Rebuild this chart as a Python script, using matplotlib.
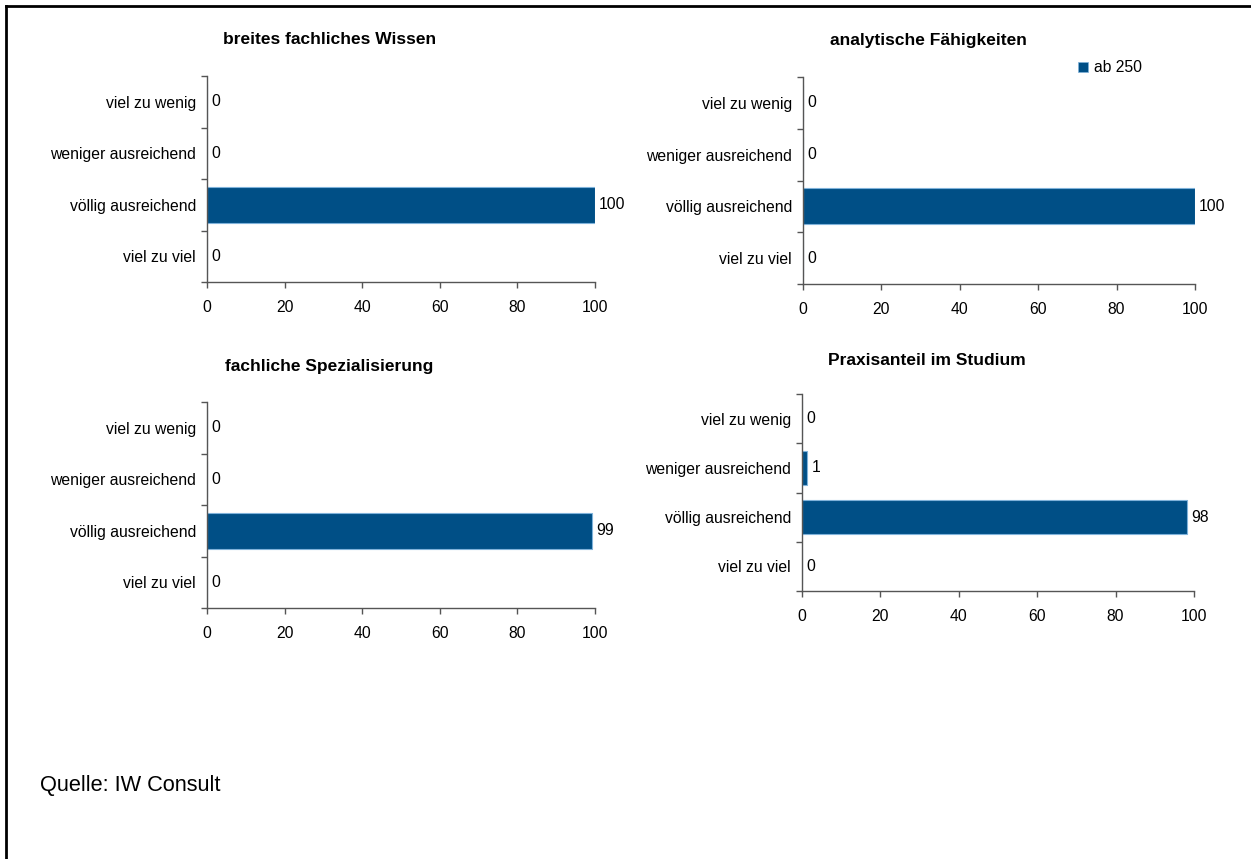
import matplotlib
matplotlib.use("Agg")
import matplotlib.pyplot as plt
from matplotlib.patches import Patch
from matplotlib.lines import Line2D

plt.rcParams['font.family'] = ['Liberation Sans', 'DejaVu Sans']

categories = ["viel zu wenig", "weniger ausreichend", "völlig ausreichend", "viel zu viel"]
titles = ["breites fachliches Wissen", "analytische Fähigkeiten",
          "fachliche Spezialisierung", "Praxisanteil im Studium"]
values_wissen = [0, 0, 100, 0]
values_analytik = [0, 0, 100, 0]
values_spezial = [0, 0, 99.3, 0]
values_praxis = [0, 1.4, 98.2, 0]
series_name = "ab 250"
xticks = [0, 20, 40, 60, 80, 100]
source = "Quelle: IW Consult"

W, H = 1251, 859
BAR = "#004F86"
EDGE = "#7FB2DA"
AX = "#555555"
FS = 11.3
TFS = 12.5

fig = plt.figure(figsize=(W / 100, H / 100), dpi=100)

# panel boxes in pixels: x0, x1, ytop, ybot ; title center x, title y
panels = [
    (values_wissen, titles[0], (207, 595, 76, 282), (330, 39)),
    (values_analytik, titles[1], (803, 1195, 77, 284), (928, 40)),
    (values_spezial, titles[2], (207, 595, 402, 608), (329, 366)),
    (values_praxis, titles[3], (802, 1194, 394, 591), (927, 360)),
]

axes = []
for vals, title, (x0, x1, yt, yb), (tx, ty) in panels:
    ax = fig.add_axes([x0 / W, 1 - yb / H, (x1 - x0) / W, (yb - yt) / H])
    ypos = list(range(len(categories)))
    ax.barh(ypos, vals, height=0.7, color=BAR, edgecolor=EDGE, linewidth=0.8)
    ax.set_xlim(0, 100)
    ax.set_ylim(len(categories) - 0.5, -0.5)
    ax.set_xticks(xticks)
    ax.set_xticklabels([str(t) for t in xticks], fontsize=FS)
    ax.set_yticks([i - 0.5 for i in range(len(categories) + 1)])
    ax.set_yticklabels([])
    ax.set_yticks(ypos, minor=True)
    ax.set_yticklabels(categories, minor=True, fontsize=FS)
    ax.tick_params(axis='y', which='minor', length=0, pad=8)
    ax.tick_params(axis='y', which='major', length=4, color=AX, width=1)
    ax.tick_params(axis='x', length=4, color=AX, width=1, pad=9)
    for s in ("top", "right"):
        ax.spines[s].set_visible(False)
    for s in ("left", "bottom"):
        ax.spines[s].set_color(AX)
        ax.spines[s].set_linewidth(1)
    for i, v in enumerate(vals):
        ax.annotate(f"{v:.0f}", (v, i), xytext=(3, 0), textcoords="offset points",
                    va="center", ha="left", fontsize=FS)
    fig.text(tx / W, 1 - ty / H, title, ha="center", va="center",
             fontsize=TFS, fontweight="bold")
    axes.append(ax)

# legend
fig.legend(handles=[Patch(facecolor=BAR, edgecolor=EDGE, linewidth=0.5, label=series_name)],
           loc="center left", bbox_to_anchor=(1078 / W, 1 - 68 / H), frameon=False,
           fontsize=FS, handlelength=0.65, handleheight=0.65, handletextpad=0.35,
           borderpad=0, borderaxespad=0)

fig.text(40 / W, 1 - 785 / H, source, ha="left", va="center", fontsize=15.7)

# frame lines (top and left)
fig.add_artist(Line2D([6 / W, 1], [1 - 6 / H, 1 - 6 / H], color="black", linewidth=2,
                      transform=fig.transFigure))
fig.add_artist(Line2D([6 / W, 6 / W], [1 - 6 / H, 0], color="black", linewidth=2,
                      transform=fig.transFigure))

fig.savefig("out.png", dpi=100, facecolor="white")
